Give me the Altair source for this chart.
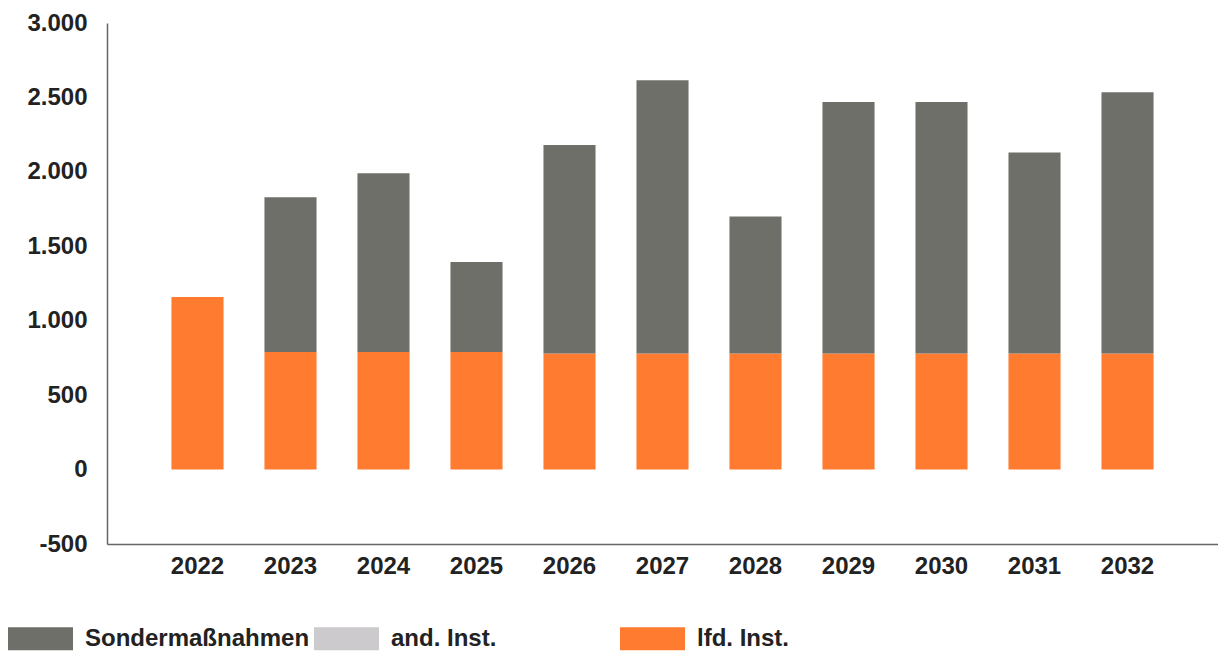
import altair as alt
import pandas as pd

years = ["2022", "2023", "2024", "2025", "2026", "2027", "2028", "2029", "2030", "2031", "2032"]
lfd_inst = [1160, 790, 790, 790, 780, 780, 780, 780, 780, 780, 780]
and_inst = [0, 0, 0, 0, 0, 0, 0, 0, 0, 0, 0]
sondermassnahmen = [0, 1040, 1200, 605, 1400, 1835, 920, 1690, 1690, 1350, 1755]

series_names = ["Sondermaßnahmen", "and. Inst.", "lfd. Inst."]
series_colors = ["#6f6f6a", "#cdcacd", "#ff7b2f"]
y_ticks = [-500, 0, 500, 1000, 1500, 2000, 2500, 3000]

rows = []
for i, y in enumerate(years):
    rows.append({"Jahr": y, "Serie": "lfd. Inst.", "Wert": lfd_inst[i], "ord": 0})
    rows.append({"Jahr": y, "Serie": "and. Inst.", "Wert": and_inst[i], "ord": 1})
    rows.append({"Jahr": y, "Serie": "Sondermaßnahmen", "Wert": sondermassnahmen[i], "ord": 2})
df = pd.DataFrame(rows)

label_expr = ("datum.value < 0 ? '-' + replace(format(-datum.value, ','), ',', '.') "
              ": replace(format(datum.value, ','), ',', '.')")

chart = alt.Chart(df).mark_bar().encode(
    x=alt.X("Jahr:N", sort=years, title=None,
            scale=alt.Scale(paddingInner=0.44, paddingOuter=0.693),
            axis=alt.Axis(labelAngle=0, ticks=False, labelPadding=10,
                          labelFontSize=24, labelFont="Liberation Sans",
                          labelFontWeight="bold", labelColor="#222222",
                          domainColor="#666666", domainWidth=1.5)),
    y=alt.Y("Wert:Q", stack="zero", title=None,
            scale=alt.Scale(domain=[-500, 3000], nice=False, zero=False),
            axis=alt.Axis(values=y_ticks, labelExpr=label_expr, grid=False,
                          ticks=False, labelPadding=20, labelFontSize=24,
                          labelFont="Liberation Sans", labelFontWeight="bold",
                          labelColor="#222222", domainColor="#666666",
                          domainWidth=1.5)),
    color=alt.Color("Serie:N",
                    scale=alt.Scale(domain=series_names, range=series_colors),
                    legend=alt.Legend(title=None, orient="none", legendX=-99,
                                      legendY=583, direction="horizontal",
                                      columns=3, gridAlign="all",
                                      columnPadding=4,
                                      symbolType="M-1,-0.354H1V0.354H-1Z",
                                      symbolSize=4225, symbolStrokeWidth=0,
                                      symbolOpacity=1, labelOffset=12,
                                      labelFontSize=24, labelFont="Liberation Sans",
                                      labelFontWeight="bold",
                                      labelColor="#222222", labelLimit=400,
                                      padding=0)),
    order=alt.Order("ord:Q", sort="ascending"),
).properties(
    width=1111,
    height=521,
    autosize=alt.AutoSizeParams(type="none"),
    padding={"left": 99, "top": 15, "right": 0, "bottom": 108},
).configure_view(stroke=None)

chart.save("out.html", embed_options={"renderer": "svg", "actions": False})
